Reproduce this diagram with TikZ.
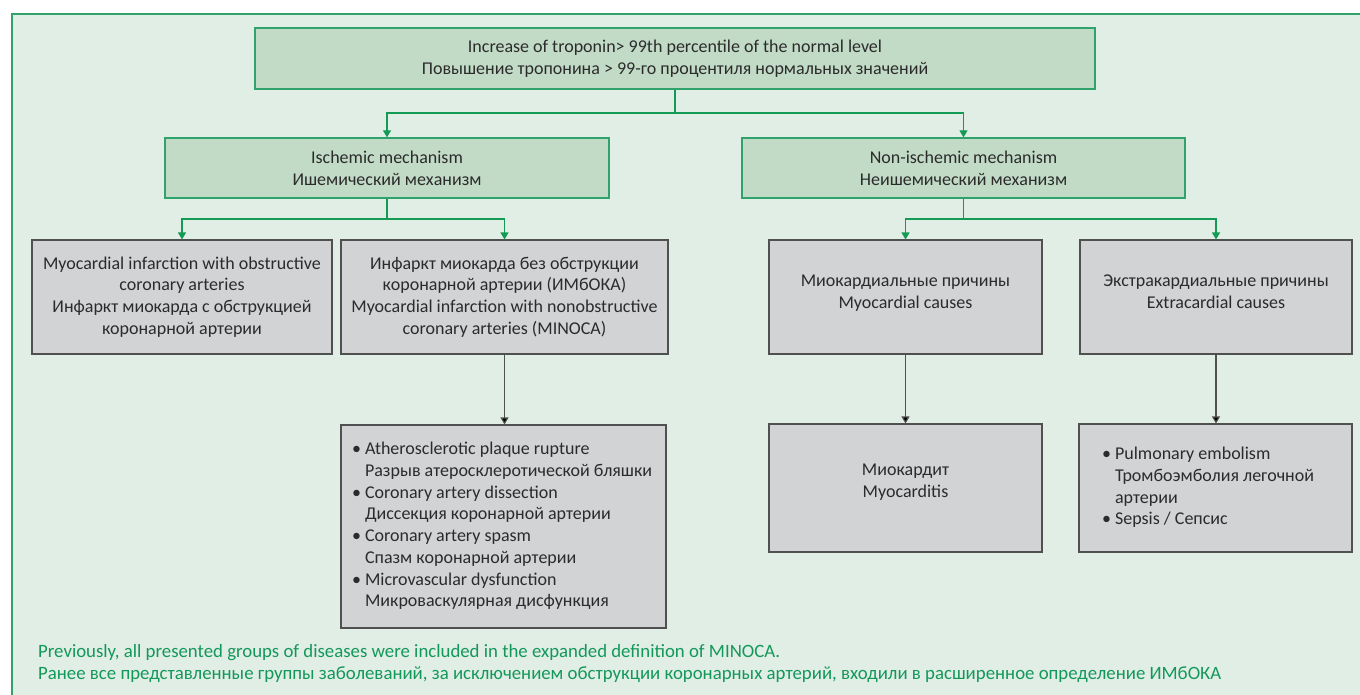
\documentclass[tikz,border=0pt]{standalone}
\usepackage{fontspec}
\setmainfont{Carlito}
\usetikzlibrary{arrows.meta}
\definecolor{bgG}{HTML}{E0EEE5}
\definecolor{boxG}{HTML}{C2DBC6}
\definecolor{lineG}{HTML}{2FA36B}
\definecolor{arrG}{HTML}{139A55}
\definecolor{greyF}{HTML}{D1D3D4}
\definecolor{greyL}{HTML}{505050}
\definecolor{txtG}{HTML}{13985A}
\definecolor{txtK}{HTML}{2B2B2B}
\newcommand\myfs{\fontsize{18}{21.7}\selectfont}
\newcommand\notefs{\fontsize{18.8}{22}\selectfont}
\begin{document}
\begin{tikzpicture}[x=1pt,y=-1pt,
  gbox/.style={draw=lineG, line width=1.3pt, fill=boxG, inner sep=0pt, align=center, text=txtK, font=\myfs},
  kbox/.style={draw=greyL, line width=1.1pt, fill=greyF, inner sep=0pt, align=center, text=txtK, font=\myfs},
  gline/.style={draw=arrG, line width=1.2pt},
  garrow/.style={draw=arrG, line width=1.2pt, -{Triangle[width=8pt,length=7pt]}},
  karrow/.style={draw=greyL, line width=1.1pt, -{Triangle[width=8pt,length=7pt,fill=black]}},
]
\useasboundingbox (0,0) rectangle (1360,694);
\clip (0,0) rectangle (1360,694);
\fill[white] (0,0) rectangle (1360,694);
\draw[draw=lineG, line width=1.3pt, fill=bgG] (12,14) rectangle (1380,714);

\node[gbox, minimum width=840pt, minimum height=61pt] (top) at (675,58.5)
  {Increase of troponin> 99th percentile of the normal level\\Повышение тропонина > 99-го процентиля нормальных значений};
\node[gbox, minimum width=444pt, minimum height=60pt] (isch) at (387,168)
  {Ischemic mechanism\\Ишемический механизм};
\node[gbox, minimum width=443pt, minimum height=60pt] (non) at (963.5,168)
  {Non-ischemic mechanism\\Неишемический механизм};

\node[kbox, minimum width=300pt, minimum height=114pt] (mi) at (182,297)
  {Myocardial infarction with obstructive\\coronary arteries\\Инфаркт миокарда с обструкцией\\коронарной артерии};
\node[kbox, minimum width=327pt, minimum height=114pt] (minoca) at (504.5,297)
  {Инфаркт миокарда без обструкции\\коронарной артерии (ИМбОКА)\\Myocardial infarction with nonobstructive\\coronary arteries (MINOCA)};
\node[kbox, minimum width=273pt, minimum height=114pt] (myo) at (905.5,297)
  {Миокардиальные причины\\Myocardial causes\\[-11.5pt]};
\node[kbox, minimum width=272pt, minimum height=114pt] (extra) at (1216,297)
  {Экстракардиальные причины\\Extracardial causes\\[-11.5pt]};

\node[kbox, minimum width=325pt, minimum height=203pt] (list) at (503.5,526.5)
  {\makebox[303pt][l]{\begin{tabular}{@{}l@{}}
  • Atherosclerotic plaque rupture\\
  \phantom{• }Разрыв атеросклеротической бляшки\\
  • Coronary artery dissection\\
  \phantom{• }Диссекция коронарной артерии\\
  • Coronary artery spasm\\
  \phantom{• }Спазм коронарной артерии\\
  • Microvascular dysfunction\\
  \phantom{• }Микроваскулярная дисфункция
  \end{tabular}}};
\node[kbox, minimum width=273pt, minimum height=128pt] (myoc) at (905.5,488)
  {Миокардит\\Myocarditis\\[-7.5pt]};
\node[kbox, minimum width=273pt, minimum height=128pt] (pulm) at (1215.5,488)
  {\makebox[227pt][l]{\begin{tabular}{@{}l@{}}
  • Pulmonary embolism\\
  \phantom{• }Тромбоэмболия легочной\\
  \phantom{• }артерии\\
  • Sepsis / Сепсис
  \end{tabular}}};

\node[anchor=west, align=left, inner sep=0pt, text=txtG, font=\notefs] (note) at (38,664)
  {Previously, all presented groups of diseases were included in the expanded definition of MINOCA.\\
   Ранее все представленные группы заболеваний, за исключением обструкции коронарных артерий, входили в расширенное определение ИМбОКА};

\coordinate (j1) at (675,113);
\coordinate (j2) at (387,219);
\coordinate (j3) at (963.5,219);
\draw[gline] (top.south) -- (j1);
\draw[garrow] (j1) -| (isch.north);
\draw[garrow] (j1) -| (non.north);
\draw[gline] (isch.south) -- (j2);
\draw[garrow] (j2) -| (mi.north);
\draw[garrow] (j2) -| (minoca.north);
\draw[gline] (non.south) -- (j3);
\draw[garrow] (j3) -| (myo.north);
\draw[garrow] (j3) -| (extra.north);
\draw[karrow] (minoca.south) -- (minoca.south |- list.north);
\draw[karrow] (myo.south) -- (myoc.north);
\draw[karrow] (extra.south) -- (extra.south |- pulm.north);
\end{tikzpicture}
\end{document}
